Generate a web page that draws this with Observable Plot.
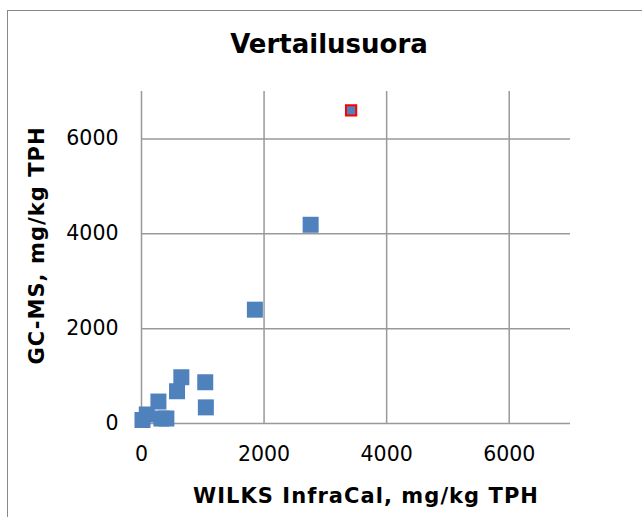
<!DOCTYPE html>
<html>
<head>
<meta charset="utf-8">
<script src="https://cdn.jsdelivr.net/npm/d3@7"></script>
<script src="https://cdn.jsdelivr.net/npm/@observablehq/plot@0.6"></script>
<style>
  html, body { margin: 0; padding: 0; background: #fff; }
  #wrap { position: relative; width: 642px; height: 517px; overflow: hidden; }
  #border { position: absolute; left: 7px; top: 10px; width: 700px; height: 600px;
            border-left: 1px solid #888; border-top: 1px solid #888; pointer-events: none; }
  svg { display: block; }
  .axis-title text { letter-spacing: 1.05px; }
</style>
</head>
<body>
<div id="wrap"><div id="border"></div></div>
<script>
const titleText = "Vertailusuora";
const xTitle = "WILKS InfraCal, mg/kg TPH";
const yTitle = "GC-MS, mg/kg TPH";

const xTicks = [0, 2000, 4000, 6000];
const yTicks = [0, 2000, 4000, 6000];

// WILKS InfraCal (x) vs GC-MS (y), mg/kg TPH
const wilks = [2760, 1850, 650, 580, 1040, 1050, 276, 16, 86, 325, 406];
const gcms  = [4190, 2400, 975, 680, 870, 340, 463, 74, 190, 105, 105];

// highlighted point (red outline)
const hiWilks = [3420];
const hiGcms  = [6600];

const pts = wilks.map((x, i) => ({x, y: gcms[i]}));
const hi = hiWilks.map((x, i) => ({x, y: hiGcms[i]}));

const gridColor = "#999";
const blue = "#4F81BD";
const fmt = d => String(d);

const chart = Plot.plot({
  width: 642,
  height: 517,
  marginLeft: 141,
  marginRight: 72,
  marginTop: 91,
  marginBottom: 94,
  style: { fontFamily: "DejaVu Sans", background: "transparent", color: "#000" },
  x: { domain: [0, 7000] },
  y: { domain: [0, 7000] },
  marks: [
    Plot.gridX(xTicks.filter(d => d > 0), { stroke: gridColor, strokeOpacity: 1, strokeWidth: 1.5 }),
    Plot.gridY(yTicks.filter(d => d > 0), { stroke: gridColor, strokeOpacity: 1, strokeWidth: 1.5 }),
    Plot.ruleX([0], { stroke: gridColor, strokeWidth: 1.5 }),
    Plot.ruleY([0], { stroke: gridColor, strokeWidth: 1.5 }),
    Plot.axisX(xTicks, { tickSize: 0, tickPadding: 23, fontSize: 20.5, label: null, tickFormat: fmt }),
    Plot.axisY(yTicks, { tickSize: 0, tickPadding: 23, fontSize: 20.5, label: null, tickFormat: fmt }),
    Plot.dot(pts, { x: "x", y: "y", symbol: "square", r: 9.03, fill: blue }),
    Plot.dot(hi, { x: "x", y: "y", symbol: "square", r: 5.8, fill: blue, stroke: "#ff0000", strokeWidth: 2 }),
    Plot.text([titleText], { frameAnchor: "top", dx: -27, dy: -47, fontSize: 26, fontWeight: "bold", lineAnchor: "middle", textAnchor: "middle" }),
    Plot.text([xTitle], { className: "axis-title", frameAnchor: "bottom", dx: 10, dy: 72.5, fontSize: 21, fontWeight: "bold", lineAnchor: "middle", textAnchor: "middle" }),
    Plot.text([yTitle], { className: "axis-title", frameAnchor: "left", dx: -104, dy: -12, rotate: -90, fontSize: 21, fontWeight: "bold", lineAnchor: "middle", textAnchor: "middle" })
  ]
});
document.getElementById("wrap").prepend(chart);
</script>
</body>
</html>
